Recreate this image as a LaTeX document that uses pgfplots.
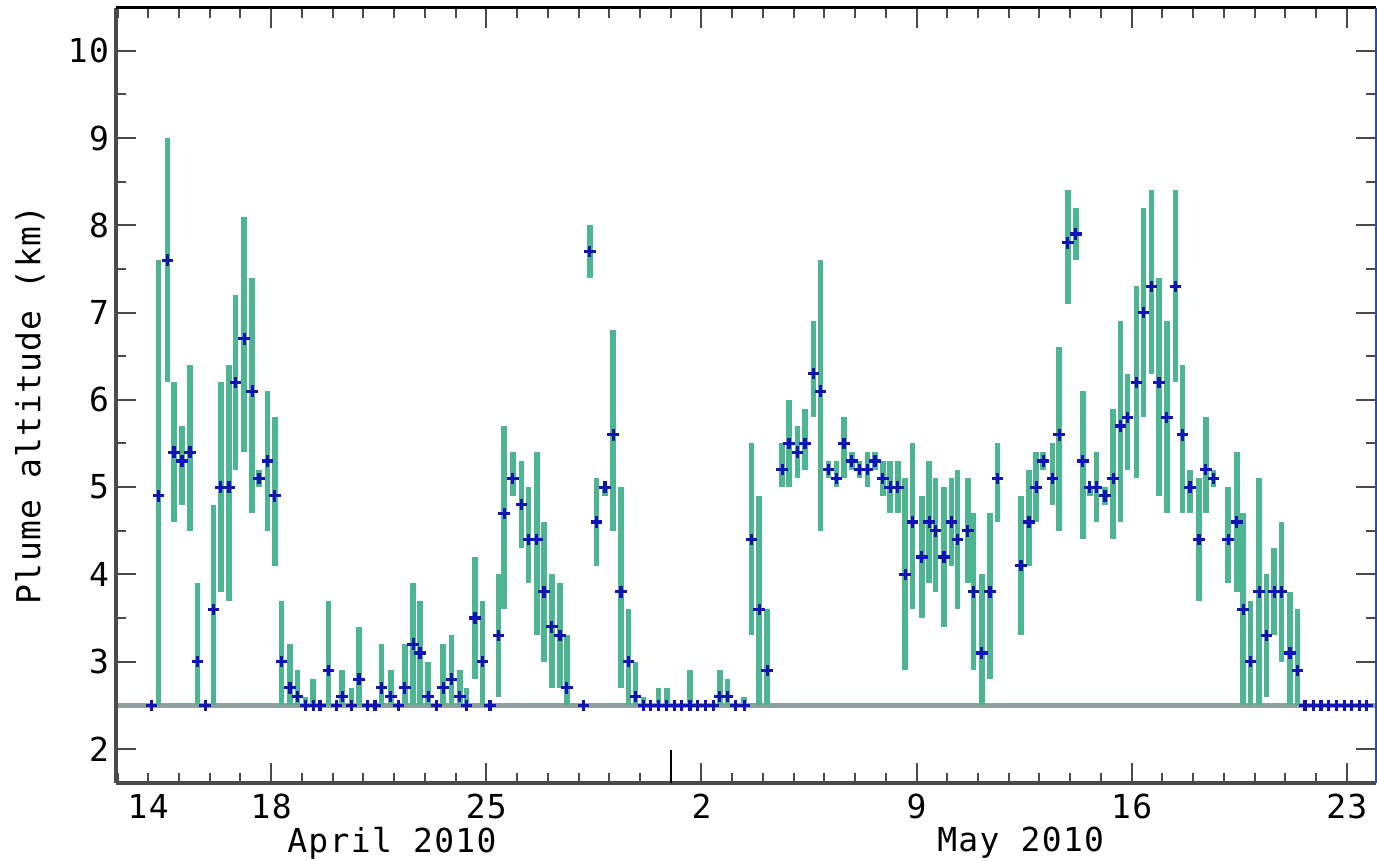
\documentclass[border=0pt]{standalone}
\usepackage{fontspec}
\usepackage{pgfplots}
\usepackage{pgfplotstable}
\pgfplotsset{compat=1.18}
\newfontfamily\lblfont[LetterSpace=4]{DejaVu Sans Mono}
\definecolor{bargreen}{HTML}{4DB690}
\definecolor{markblue}{HTML}{1414B4}
\definecolor{basegray}{HTML}{8FA09E}
\definecolor{axgray}{HTML}{4A4A4A}
\definecolor{rightblue}{HTML}{2A4FA8}

\pgfplotstableread{
x y lo hi
14.11 2.5 2.5 2.5
14.33 4.9 2.5 7.6
14.62 7.6 6.2 9.0
14.84 5.4 4.6 6.2
15.10 5.3 4.8 5.7
15.36 5.4 4.5 6.4
15.60 3.0 2.5 3.9
15.85 2.5 2.5 2.5
16.12 3.6 2.5 4.8
16.36 5.0 3.8 6.2
16.63 5.0 3.7 6.4
16.84 6.2 5.2 7.2
17.12 6.7 5.4 8.1
17.38 6.1 4.7 7.4
17.60 5.1 5.0 5.2
17.88 5.3 4.5 6.1
18.12 4.9 4.1 5.8
18.34 3.0 2.5 3.7
18.61 2.7 2.5 3.2
18.85 2.6 2.5 2.9
19.12 2.5 2.5 2.6
19.37 2.5 2.5 2.8
19.59 2.5 2.5 2.5
19.86 2.9 2.5 3.7
20.13 2.5 2.5 2.5
20.31 2.6 2.5 2.9
20.61 2.5 2.5 2.7
20.86 2.8 2.5 3.4
21.13 2.5 2.5 2.5
21.38 2.5 2.5 2.5
21.59 2.7 2.5 3.2
21.89 2.6 2.5 2.9
22.14 2.5 2.5 2.5
22.35 2.7 2.5 3.2
22.62 3.2 2.5 3.9
22.84 3.1 2.5 3.7
23.11 2.6 2.5 3.0
23.38 2.5 2.5 2.5
23.60 2.7 2.5 3.2
23.87 2.8 2.5 3.3
24.14 2.6 2.5 2.9
24.36 2.5 2.5 2.7
24.63 3.5 2.8 4.2
24.87 3.0 2.5 3.7
25.12 2.5 2.5 2.5
25.39 3.3 2.6 4.0
25.58 4.7 3.6 5.7
25.86 5.1 4.9 5.4
26.15 4.8 4.3 5.3
26.37 4.4 3.9 5.0
26.64 4.4 3.3 5.4
26.88 3.8 3.0 4.6
27.13 3.4 2.7 4.0
27.40 3.3 2.7 3.9
27.62 2.7 2.5 3.3
28.16 2.5 2.5 2.5
28.37 7.7 7.4 8.0
28.59 4.6 4.1 5.1
28.86 5.0 4.9 5.0
29.13 5.6 4.5 6.8
29.38 3.8 2.7 5.0
29.62 3.0 2.5 3.6
29.86 2.6 2.5 3.0
30.11 2.5 2.5 2.6
30.33 2.5 2.5 2.5
30.60 2.5 2.5 2.7
30.87 2.5 2.5 2.7
31.12 2.5 2.5 2.5
31.36 2.5 2.5 2.5
31.63 2.5 2.5 2.9
31.88 2.5 2.5 2.5
32.12 2.5 2.5 2.5
32.39 2.5 2.5 2.5
32.60 2.6 2.5 2.9
32.85 2.6 2.5 2.8
33.11 2.5 2.5 2.5
33.39 2.5 2.5 2.6
33.63 4.4 3.3 5.5
33.88 3.6 2.5 4.9
34.14 2.9 2.5 3.6
34.63 5.2 5.0 5.5
34.85 5.5 5.0 6.0
35.13 5.4 5.1 5.7
35.37 5.5 5.2 5.9
35.64 6.3 5.8 6.9
35.88 6.1 4.5 7.6
36.13 5.2 5.1 5.3
36.40 5.1 5.0 5.3
36.64 5.5 5.1 5.8
36.89 5.3 5.2 5.4
37.14 5.2 5.1 5.3
37.40 5.2 5.0 5.4
37.65 5.3 5.2 5.4
37.90 5.1 4.9 5.3
38.14 5.0 4.7 5.3
38.39 5.0 4.7 5.3
38.63 4.0 2.9 5.1
38.87 4.6 3.6 5.5
39.17 4.2 3.5 4.9
39.41 4.6 3.9 5.3
39.62 4.5 3.8 5.1
39.89 4.2 3.4 5.0
40.14 4.6 4.1 5.1
40.33 4.4 3.6 5.2
40.67 4.5 3.9 5.1
40.85 3.8 2.9 4.7
41.12 3.1 2.5 4.0
41.39 3.8 2.8 4.7
41.63 5.1 4.6 5.5
42.40 4.1 3.3 4.9
42.66 4.6 4.1 5.2
42.89 5.0 4.6 5.4
43.12 5.3 5.2 5.4
43.42 5.1 4.8 5.5
43.64 5.6 4.5 6.6
43.92 7.8 7.1 8.4
44.18 7.9 7.6 8.2
44.41 5.3 4.4 6.1
44.64 5.0 4.9 5.0
44.86 5.0 4.6 5.4
45.13 4.9 4.8 5.0
45.40 5.1 4.4 5.9
45.64 5.7 4.6 6.9
45.87 5.8 5.2 6.3
46.16 6.2 5.1 7.3
46.38 7.0 5.8 8.2
46.65 7.3 6.3 8.4
46.89 6.2 4.9 7.4
47.14 5.8 4.7 6.9
47.43 7.3 6.2 8.4
47.65 5.6 4.7 6.4
47.90 5.0 4.7 5.2
48.19 4.4 3.7 5.1
48.41 5.2 4.7 5.8
48.66 5.1 5.0 5.2
49.14 4.4 3.9 5.0
49.42 4.6 3.8 5.4
49.63 3.6 2.5 4.7
49.87 3.0 2.5 3.7
50.15 3.8 2.5 5.1
50.39 3.3 2.6 4.0
50.64 3.8 3.3 4.3
50.88 3.8 3.0 4.6
51.15 3.1 2.5 3.8
51.39 2.9 2.5 3.6
51.64 2.5 2.5 2.5
51.91 2.5 2.5 2.5
52.16 2.5 2.5 2.5
52.40 2.5 2.5 2.5
52.67 2.5 2.5 2.5
52.92 2.5 2.5 2.5
53.16 2.5 2.5 2.5
53.40 2.5 2.5 2.5
53.65 2.5 2.5 2.5
}\plumedata

\begin{document}
\begin{tikzpicture}
\begin{axis}[
  scale only axis,
  width=630pt, height=387.5pt,
  at={(58pt,39pt)}, anchor=south west,
  xmin=12.95, xmax=53.95,
  ymin=1.61, ymax=10.49,
  axis line style={draw=none},
  tick align=inside,
  major tick length=10pt,
  minor tick length=5pt,
  every tick/.style={axgray, line width=1pt},
  xtick={18,25,32,39,46,53},
  xticklabels={18,25,2,9,16,23},
  minor xtick={13,...,54},
  extra x ticks={14},
  extra x tick labels={14},
  extra x tick style={major tick length=5pt},
  ytick={2,3,...,10},
  minor ytick={1.5,2.5,...,10.5},
  /pgf/number format/assume math mode=true,
  ticklabel style={font=\lblfont\fontsize{16.5}{18}\selectfont, text=black},
  xticklabel style={yshift=-2pt},
  ylabel={Plume altitude (km)},
  ylabel style={font=\lblfont\fontsize{16.5}{18}\selectfont, at={(axis description cs:-0.0683,0.4877)}, anchor=center},
  clip=false,
]
\addplot[basegray, line width=2.2pt, forget plot] coordinates {(12.95,2.5) (53.95,2.5)};
\addplot[draw=none, mark=+, mark size=2.9pt,
  mark options={draw=markblue, line width=1.6pt},
  error bars/.cd, y dir=both, y explicit,
  error bar style={draw=bargreen, line width=2.8pt},
  error mark=none]
  table[x=x, y=y,
    y error plus expr=\thisrow{hi}-\thisrow{y},
    y error minus expr=\thisrow{y}-\thisrow{lo}] {\plumedata};
% frame
\draw[axgray, line width=1.6pt] (rel axis cs:0,0) -- (rel axis cs:0,1);
\draw[axgray, line width=2pt] (rel axis cs:0,0) -- (rel axis cs:1,0);
\draw[black, line width=1.5pt] (rel axis cs:0,1) -- (rel axis cs:1,1);
\draw[rightblue, line width=1pt] (rel axis cs:1,0) -- (rel axis cs:1,1);
% month boundary tick (May 1)
\draw[black, line width=1pt] (axis cs:31,1.61) -- ([yshift=16.5pt]axis cs:31,1.61);
\node[font=\lblfont\fontsize{16.5}{18}\selectfont, anchor=center] at (axis description cs:0.219,-0.0774) {April 2010};
\node[font=\lblfont\fontsize{16.5}{18}\selectfont, anchor=center] at (axis description cs:0.718,-0.0774) {May 2010};
\end{axis}
\pgfresetboundingbox
\path[use as bounding box] (0,0) rectangle (688.5pt,430.5pt);
\end{tikzpicture}
\end{document}
